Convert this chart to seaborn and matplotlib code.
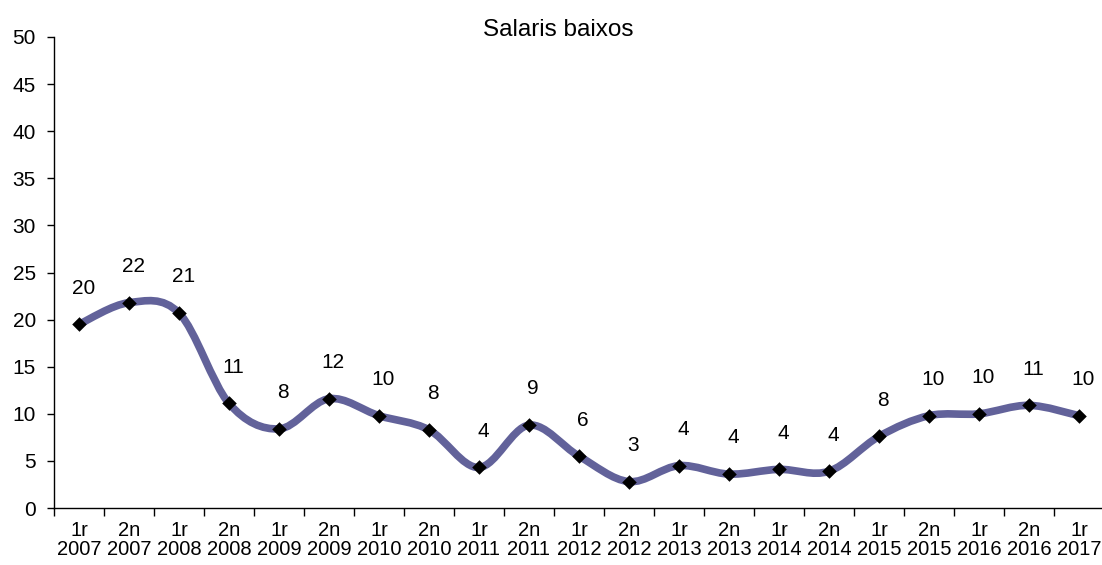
import numpy as np
import pandas as pd
import matplotlib
matplotlib.use('Agg')
import matplotlib.pyplot as plt
from matplotlib.path import Path
from matplotlib.patches import PathPatch
import seaborn as sns

# Data
halves = ['1r', '2n'] * 11
years = [y for y in range(2007, 2018) for _ in range(2)]
labels = [f'{h}\n{y}' for h, y in zip(halves, years)][:21]
values = [19.5, 21.8, 20.7, 11.1, 8.4, 11.6, 9.8, 8.3, 4.3, 8.8, 5.5,
          2.8, 4.5, 3.6, 4.1, 3.9, 7.6, 9.8, 10.0, 10.9, 9.8]

df = pd.DataFrame({'pos': np.arange(len(values)), 'value': values, 'label': labels})

sns.set_style('white')
plt.rcParams['font.family'] = ['Liberation Sans', 'DejaVu Sans']
plt.rcParams['text.color'] = 'black'
plt.rcParams['xtick.color'] = 'black'
plt.rcParams['ytick.color'] = 'black'

fs = 15

fig = plt.figure(figsize=(11.02, 5.65), dpi=100)
ax = fig.add_axes([54 / 1102, 57 / 565, 1050 / 1102, 471 / 565])

# Smoothed line (Excel style bezier) built from the data points
pts = np.column_stack([df['pos'], df['value']])
ext = np.vstack([pts[0], pts, pts[-1]])
verts = [tuple(pts[0])]
codes = [Path.MOVETO]
for i in range(len(pts) - 1):
    p0, p1, p2, p3 = ext[i], ext[i + 1], ext[i + 2], ext[i + 3]
    c1 = p1 + (p2 - p0) / 6
    c2 = p2 - (p3 - p1) / 6
    verts += [tuple(c1), tuple(c2), tuple(p2)]
    codes += [Path.CURVE4] * 3
ax.add_patch(PathPatch(Path(verts, codes), facecolor='none', edgecolor='#62629a',
                       lw=5.5, capstyle='round', joinstyle='round', zorder=2))

sns.scatterplot(data=df, x='pos', y='value', marker='D', color='black', s=55,
                edgecolor='black', linewidth=0, zorder=3, ax=ax)

for _, r in df.iterrows():
    ax.annotate(f"{r['value']:.0f}", (r['pos'], r['value']), xytext=(3, 26),
                textcoords='offset points', ha='center', va='center', fontsize=fs)

ax.set_xlim(-0.5, len(values) - 0.5)
ax.set_ylim(0, 50)
ax.set_yticks(range(0, 51, 5))
ax.set_xticks(np.arange(-0.5, len(values), 1.0))
ax.set_xticklabels([])
ax.set_xticks(df['pos'], minor=True)
ax.set_xticklabels(df['label'], minor=True, fontsize=14.5, linespacing=1.05)
ax.tick_params(axis='x', which='major', direction='out', length=6, width=1, bottom=True)
ax.tick_params(axis='x', which='minor', length=0, pad=9)
ax.tick_params(axis='y', direction='out', length=5, width=1, left=True, labelsize=fs, pad=8)
ax.set_xlabel('')
ax.set_ylabel('')
for s in ['top', 'right']:
    ax.spines[s].set_visible(False)
for s in ['left', 'bottom']:
    ax.spines[s].set_color('black')
    ax.spines[s].set_linewidth(1)

fig.text(558 / 1102, 1 - 30 / 565, 'Salaris baixos', ha='center', va='center', fontsize=17.5)

fig.savefig('out.png', dpi=100)
